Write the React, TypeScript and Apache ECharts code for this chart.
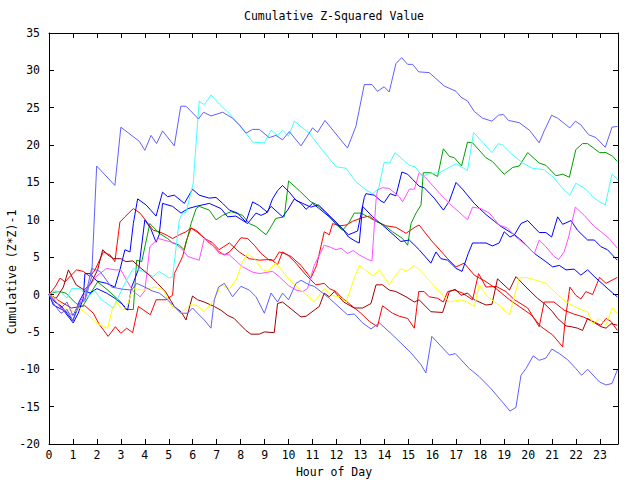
import React, { useEffect, useRef } from 'react';
import * as echarts from 'echarts';

type P = [number, number];

const TITLE = 'Cumulative Z-Squared Value';
const X_NAME = 'Hour of Day';
const Y_NAME = 'Cumulative (Z*Z)-1';
const X_MIN = 0;
const X_MAX = 23.75;
const Y_MIN = -20;
const Y_MAX = 35;

// [hour, value] vertices
const periwinkleUpper: P[] = [
  [0, 0], [0.25, -0.8], [0.5, -1.8], [0.75, -1.0], [1.0, -2.8], [1.25, -1.2], [1.5, -0.8], [1.78, 2.4],
  [1.99, 17.2], [2.75, 14.6], [3.0, 22.4], [3.77, 20.5], [4.0, 19.3], [4.26, 21.3], [4.49, 20.2], [4.74, 21.9],
  [5.23, 19.9], [5.5, 25.2], [5.72, 25.2], [6.24, 23.5], [6.45, 24.4], [6.76, 23.9], [7.25, 24.4], [7.66, 23.6],
  [7.94, 22.7], [8.22, 21.6], [8.5, 22.1], [8.78, 22.1], [9.19, 21.0], [9.47, 21.3], [9.75, 20.7], [10.03, 21.8],
  [10.52, 19.9], [11.0, 22.3], [11.21, 21.7], [11.52, 23.3], [12.46, 19.6], [12.81, 22.5], [13.16, 28.1],
  [13.48, 28.1], [13.71, 27.2], [13.99, 27.8], [14.2, 27.1], [14.48, 30.9], [14.72, 31.7], [14.97, 30.8],
  [15.18, 30.8], [15.43, 29.8], [15.87, 29.7], [16.5, 27.9], [16.99, 27.2], [17.2, 26.4], [17.47, 25.9],
  [17.75, 24.5], [18.1, 23.6], [18.49, 23.2], [18.76, 24.0], [18.96, 24.1], [19.18, 23.3], [19.63, 23.0],
  [20.05, 22.0], [20.46, 20.3], [20.67, 21.9], [20.98, 24.0], [21.23, 23.6], [21.74, 22.3], [21.97, 23.2],
  [22.2, 22.7], [22.52, 21.4], [22.83, 21.0], [23.22, 19.7], [23.5, 22.4], [23.72, 22.5],
];

const periwinkleLower: P[] = [
  [0, 0], [0.25, -1.5], [0.5, -2.5], [0.75, -2.0], [1.0, -3.5], [1.25, -1.5], [1.5, -0.5], [1.78, 3.5],
  [2.13, 3.1], [2.61, 1.0], [3.1, 0.7], [3.45, 0.6], [3.66, 1.5], [4.0, 1.0], [4.3, 0.5], [4.6, 0.2],
  [4.88, -0.5], [5.16, -1.4], [5.51, -2.5], [5.79, -2.5], [5.99, -1.8], [6.2, -2.5], [6.48, -3.4], [6.76, -4.5],
  [6.9, -0.7], [7.08, 1.0], [7.32, 1.5], [7.53, 0.4], [7.66, -0.3], [8.01, 1.1], [8.36, 0.6], [8.64, -0.3],
  [8.99, -2.5], [9.27, 0.2], [9.54, -1.0], [9.75, 0.2], [10.0, -0.7], [10.31, 1.5], [10.52, 1.9], [10.86, 1.3],
  [11.07, 1.1], [11.7, -0.5], [12.46, -2.7], [12.74, -2.6], [13.09, -3.8], [13.44, -4.6], [13.79, -3.8],
  [14.27, -5.2], [14.69, -6.5], [15.11, -7.8], [15.53, -9.4], [15.73, -10.5], [15.98, -5.6], [16.71, -8.1],
  [16.96, -7.9], [17.54, -9.9], [17.96, -11.0], [18.45, -12.6], [18.93, -14.4], [19.24, -15.6], [19.49, -15.1],
  [19.7, -10.8], [19.91, -9.9], [20.21, -8.2], [20.46, -8.8], [20.74, -8.5], [20.99, -7.3], [21.3, -7.9],
  [21.64, -8.7], [21.99, -9.9], [22.23, -10.8], [22.48, -10.0], [22.98, -11.7], [23.25, -12.1], [23.5, -11.9],
  [23.72, -10.1],
];

const cyanLine: P[] = [
  [0, 0], [0.25, 0.5], [0.5, 0.3], [0.75, -0.5], [0.94, 0.8], [1.29, 0.8], [1.64, -0.3], [1.9, 0.5],
  [2.2, -0.7], [2.68, -1.8], [3.03, 0.6], [3.25, 2.0], [3.52, 3.5], [3.94, 3.1], [4.35, 2.4], [4.6, 3.1],
  [5.02, 2.2], [5.16, 2.4], [5.44, 10.0], [5.58, 10.9], [5.72, 11.0], [6.02, 14.9], [6.2, 22.9], [6.27, 25.9],
  [6.48, 25.4], [6.76, 26.7], [7.11, 25.5], [7.53, 24.2], [8.01, 22.5], [8.5, 20.4], [8.99, 20.3], [9.27, 22.0],
  [9.54, 21.3], [9.75, 22.0], [10.0, 21.2], [10.24, 23.2], [10.86, 21.6], [11.42, 19.3], [11.98, 17.1],
  [12.4, 16.9], [12.81, 15.1], [13.23, 14.0], [13.51, 13.5], [13.76, 14.2], [13.99, 17.7], [14.23, 17.6],
  [14.44, 19.0], [15.04, 17.3], [15.28, 17.1], [15.59, 15.8], [15.87, 16.2], [16.29, 16.3], [16.99, 17.5],
  [17.47, 16.6], [17.72, 21.7], [18.49, 19.0], [18.75, 20.2], [18.93, 20.0], [19.28, 18.9], [19.77, 17.6],
  [20.18, 16.9], [20.67, 16.7], [21.08, 15.6], [21.5, 14.0], [21.74, 13.3], [21.99, 14.9], [22.41, 14.1],
  [22.69, 13.1], [22.98, 12.4], [23.22, 12.0], [23.5, 16.1], [23.72, 15.4],
];

const greenLine: P[] = [
  [0, 0], [0.2, 0.3], [0.43, 0.4], [0.7, 0.2], [1.13, -1.2], [1.4, -1.6], [1.7, 0.0], [2.03, 1.7],
  [2.45, 0.6], [3.0, -1.0], [3.21, -2.0], [3.52, -2.0], [3.66, 4.6], [3.87, 4.4], [4.21, 9.5], [4.6, 8.2],
  [4.95, 7.5], [5.16, 6.9], [5.44, 6.6], [5.65, 6.0], [5.93, 9.5], [6.14, 11.5], [6.27, 11.8], [6.69, 11.3],
  [6.97, 10.0], [7.25, 10.6], [7.6, 11.1], [8.08, 10.6], [8.36, 9.5], [8.64, 9.1], [9.06, 8.0], [9.27, 9.1],
  [9.47, 10.2], [9.82, 10.4], [10.0, 15.2], [10.45, 13.9], [10.93, 12.4], [11.14, 12.1], [11.56, 11.0],
  [11.98, 9.4], [12.25, 8.6], [12.5, 9.5], [12.74, 10.9], [13.02, 10.9], [13.37, 10.3], [13.71, 9.7],
  [13.99, 9.3], [14.34, 8.4], [14.76, 7.5], [14.97, 6.6], [15.11, 9.5], [15.32, 10.9], [15.53, 12.0],
  [15.62, 16.3], [15.94, 16.3], [16.22, 15.8], [16.46, 19.5], [16.71, 18.5], [16.92, 18.3], [17.22, 17.2],
  [17.47, 20.4], [17.68, 20.3], [18.24, 18.3], [18.51, 17.8], [19.0, 16.1], [19.35, 17.0], [19.63, 17.2],
  [19.98, 19.0], [20.46, 17.6], [20.74, 17.3], [21.16, 15.9], [21.44, 16.1], [21.72, 15.7], [21.99, 19.4],
  [22.27, 20.2], [22.48, 20.2], [22.98, 19.0], [23.25, 19.0], [23.53, 18.5], [23.72, 17.8],
];

const blueA: P[] = [
  [0, 0], [0.18, -1.4], [0.6, -2.1], [1.01, -3.8], [1.22, -2.5], [1.43, -0.5], [1.5, 2.8], [1.71, 2.8],
  [2.0, 1.8], [2.4, 1.5], [2.75, 1.0], [2.96, 3.3], [3.17, 6.0], [3.38, 5.7], [3.52, 9.5], [3.7, 12.8],
  [4.05, 12.0], [4.47, 10.5], [4.74, 13.7], [4.95, 13.1], [5.23, 13.3], [5.65, 12.2], [5.99, 14.1],
  [6.27, 13.3], [6.69, 12.9], [6.97, 13.0], [7.25, 12.2], [7.53, 11.3], [7.87, 10.9], [8.22, 9.7], [8.5, 12.4],
  [8.78, 11.9], [9.12, 11.0], [9.33, 12.8], [9.54, 13.9], [9.75, 14.6], [10.03, 13.7], [10.31, 12.6],
  [10.59, 12.2], [10.93, 11.7], [11.25, 12.0], [11.56, 11.0], [11.98, 9.7], [12.25, 8.8], [12.5, 7.7],
  [12.81, 7.1], [12.95, 6.9], [13.09, 11.8], [13.51, 10.4], [13.92, 9.3], [14.48, 7.7], [14.69, 7.1],
  [15.04, 7.3], [15.45, 6.0], [15.94, 4.2], [16.15, 5.7], [16.36, 4.8], [16.64, 4.6], [16.99, 3.5],
  [17.24, 3.1], [17.5, 5.5], [17.68, 6.9], [17.96, 6.9], [18.24, 6.9], [18.51, 6.5], [18.79, 6.9], [19.0, 8.4],
  [19.24, 7.7], [19.43, 8.0], [19.7, 9.5], [19.98, 9.9], [20.46, 8.3], [20.74, 8.3], [20.98, 7.7],
  [21.23, 10.4], [21.44, 9.4], [21.79, 9.9], [22.06, 8.6], [22.48, 7.3], [22.76, 7.3], [23.04, 6.4],
  [23.31, 6.0], [23.72, 4.6],
];

const blueB: P[] = [
  [0, 0], [0.25, -1.0], [0.5, -1.5], [0.75, -2.5], [1.0, -3.5], [1.25, -1.0], [1.5, 0.5], [1.71, 0.2],
  [2.0, 0.8], [2.4, 0.2], [2.75, -0.5], [3.1, -1.4], [3.28, -2.1], [3.45, 1.0], [3.75, 3.5], [4.0, 10.0],
  [4.25, 8.8], [4.47, 7.0], [4.6, 8.0], [4.74, 12.2], [5.16, 11.8], [5.51, 10.9], [5.8, 11.5], [6.14, 11.8],
  [6.69, 12.2], [7.18, 11.5], [7.46, 10.4], [7.8, 10.5], [8.29, 9.5], [8.64, 10.9], [8.85, 10.6], [9.06, 10.9],
  [9.27, 11.8], [9.75, 10.4], [9.96, 11.3], [10.24, 12.8], [10.52, 12.2], [10.73, 11.4], [11.0, 12.2],
  [11.28, 11.5], [11.7, 10.4], [11.98, 9.5], [12.25, 8.8], [12.5, 8.0], [12.88, 8.5], [13.16, 13.0],
  [13.23, 13.5], [13.58, 13.3], [13.86, 12.5], [13.99, 12.3], [14.24, 13.5], [14.48, 13.2], [14.73, 16.4],
  [14.97, 16.1], [15.18, 15.4], [15.45, 14.5], [15.66, 14.3], [16.08, 12.9], [16.46, 11.3], [16.71, 12.5],
  [16.99, 15.0], [17.26, 14.1], [17.75, 12.2], [18.24, 10.7], [18.59, 9.8], [18.87, 9.1], [19.43, 8.0],
  [19.77, 7.1], [20.26, 5.5], [20.74, 4.4], [21.02, 3.7], [21.3, 3.9], [21.58, 3.3], [21.92, 3.4],
  [22.2, 2.6], [22.48, 3.3], [22.83, 2.2], [23.25, 1.0], [23.53, 0.2], [23.72, -0.3],
];

const magentaLine: P[] = [
  [0, 0], [0.3, -1.0], [0.6, -2.0], [1.0, -2.8], [1.3, -1.0], [1.6, 0.8], [2.0, 2.5], [2.4, 3.5],
  [2.75, 3.3], [3.0, 3.3], [3.24, 1.9], [3.5, 0.5], [3.8, -0.3], [4.0, 0.5], [4.21, 6.4], [4.56, 7.5],
  [5.02, 7.1], [5.23, 6.9], [5.51, 6.2], [5.79, 5.1], [6.27, 4.6], [6.48, 7.5], [6.69, 7.1], [7.11, 5.5],
  [7.53, 5.3], [8.08, 3.7], [8.5, 3.0], [8.78, 2.8], [9.33, 3.1], [9.61, 2.4], [10.0, 1.2], [10.31, 0.6],
  [10.59, 0.4], [10.79, 0.8], [11.07, 3.9], [11.49, 6.6], [11.7, 6.4], [11.98, 6.0], [12.19, 6.2],
  [12.46, 5.5], [12.7, 5.9], [12.95, 5.3], [13.3, 4.7], [13.48, 4.5], [13.65, 12.6], [13.71, 14.0],
  [13.92, 14.3], [14.2, 14.2], [14.62, 13.1], [14.76, 12.4], [15.04, 14.1], [15.25, 14.1], [15.45, 16.3],
  [15.73, 15.6], [16.29, 13.6], [16.78, 12.0], [17.47, 10.0], [17.68, 11.7], [18.03, 11.5], [18.38, 10.9],
  [18.79, 9.3], [19.14, 8.9], [19.49, 7.7], [19.91, 6.6], [20.26, 5.5], [20.46, 7.3], [20.74, 6.4],
  [21.08, 5.1], [21.27, 4.7], [21.5, 5.7], [21.69, 7.7], [21.97, 11.7], [22.34, 10.6], [22.76, 9.1],
  [23.04, 8.4], [23.38, 7.5], [23.72, 6.2],
];

const yellowLine: P[] = [
  [0, 0], [0.25, -0.5], [0.5, -1.2], [0.75, -2.0], [1.08, -2.3], [1.26, -1.8], [1.54, -2.5], [2.03, -3.9],
  [2.45, -4.5], [2.63, -2.1], [2.82, -1.0], [3.07, -2.1], [3.28, -1.4], [3.49, 0.8], [3.94, 0.6], [4.42, 1.0],
  [4.77, 0.6], [5.09, -1.4], [5.51, -2.5], [5.86, -1.4], [6.14, -1.4], [6.48, -2.3], [6.9, -0.7], [7.18, 1.3],
  [7.53, 0.8], [7.8, 1.9], [8.08, 4.4], [8.29, 5.5], [8.57, 4.8], [8.92, 3.3], [9.12, 3.1], [9.47, 4.2],
  [9.82, 2.8], [10.24, 1.3], [10.66, 0.2], [11.07, -1.0], [11.49, 0.8], [11.77, -0.1], [12.12, -0.3],
  [12.4, -1.0], [12.74, 2.2], [12.95, 3.9], [13.51, 2.5], [13.79, 3.3], [14.2, 1.3], [14.48, 2.6],
  [14.69, 3.5], [14.9, 3.1], [15.25, 3.9], [15.53, 3.1], [15.87, 1.9], [16.29, 0.4], [16.71, -1.0],
  [17.2, -0.7], [17.47, -1.0], [17.75, -1.6], [17.96, 1.3], [18.31, -0.3], [18.8, -1.5], [19.22, -2.7],
  [19.63, 2.2], [19.91, 2.3], [20.33, 1.9], [20.74, 1.5], [21.16, 0.2], [21.58, -1.0], [21.92, -1.6],
  [22.27, -2.1], [22.48, -2.3], [22.69, -3.9], [22.98, -3.2], [23.25, -4.1], [23.5, -1.8], [23.72, -2.5],
];

const darkRedLine: P[] = [
  [0, 0], [0.3, -0.5], [0.6, 1.0], [0.81, 3.3], [1.13, 1.3], [1.47, 0.6], [1.75, 1.5], [2.03, 3.3],
  [2.24, 6.0], [2.45, 5.3], [2.7, 4.8], [3.0, 4.8], [3.21, 4.4], [3.5, 4.5], [3.77, 3.7], [4.19, 2.6],
  [4.53, 1.5], [4.88, 0.3], [5.23, -1.6], [5.51, -2.3], [5.72, -3.4], [5.99, -0.2], [6.2, -0.7], [6.48, -1.0],
  [6.9, -1.6], [7.18, -2.1], [7.46, -2.8], [7.73, -3.2], [7.94, -3.9], [8.22, -4.8], [8.43, -5.3],
  [8.78, -5.3], [8.99, -5.0], [9.4, -5.1], [9.54, -1.2], [9.75, -1.0], [10.52, -3.0], [10.73, -2.9],
  [11.28, -1.6], [11.49, 0.2], [11.7, -0.3], [11.91, 0.4], [12.3, -1.0], [12.74, -1.8], [13.09, -1.8],
  [13.44, -1.2], [13.65, 1.3], [13.92, 1.3], [14.2, 0.6], [14.48, 0.4], [14.9, -0.3], [15.25, -1.0],
  [15.45, -0.7], [15.94, -2.3], [16.43, -2.4], [16.71, 0.4], [16.96, 0.7], [17.2, -0.1], [17.47, 0.2],
  [17.75, -0.7], [18.24, -1.4], [18.49, -1.3], [18.72, 2.1], [19.22, 0.6], [19.49, 2.4], [19.91, 1.0],
  [20.39, -0.5], [20.67, -1.2], [21.02, -2.3], [21.23, -3.2], [21.58, -4.2], [21.79, -4.3], [22.06, -4.5],
  [22.27, -4.8], [22.48, -3.2], [23.04, -4.3], [23.25, -4.5], [23.46, -3.9], [23.72, -4.1],
];

const redA: P[] = [
  [0, 0], [0.5, -1.0], [0.94, -1.8], [1.5, -1.5], [1.85, -2.5], [2.1, -4.0], [2.47, -5.6], [2.77, -4.3],
  [3.0, -5.2], [3.24, -4.5], [3.49, -5.1], [3.73, -1.6], [4.23, -2.7], [4.47, -0.7], [4.88, -0.7],
  [5.16, -0.1], [5.23, 2.8], [5.37, 3.7], [5.58, 5.1], [5.72, 7.1], [5.93, 8.9], [6.2, 8.3], [6.5, 7.5],
  [6.8, 7.0], [7.1, 6.0], [7.53, 6.9], [7.94, 5.7], [8.36, 4.8], [8.78, 4.6], [9.27, 4.7], [9.54, 4.0],
  [9.75, 5.7], [9.96, 5.3], [10.31, 4.2], [10.73, 2.6], [11.14, 1.3], [11.49, 1.5], [11.7, 0.8],
  [11.98, 0.4], [12.25, -0.5], [12.6, -1.4], [13.02, -2.5], [13.37, -3.6], [13.71, -4.3], [13.92, -1.5],
  [14.34, -2.5], [14.62, -2.9], [14.97, -3.2], [15.25, -4.5], [15.43, 0.4], [15.66, 0.4], [15.87, -0.3],
  [16.22, -0.5], [16.46, -1.0], [16.64, 0.4], [16.92, 0.6], [17.26, 0.2], [17.68, -0.7], [17.93, 2.8],
  [18.24, 1.0], [18.66, 1.1], [19.07, 0.4], [19.43, -0.7], [19.98, -1.8], [20.46, -4.3], [20.67, -1.0],
  [21.08, -1.0], [21.5, -2.1], [21.9, -2.6], [22.3, -3.0], [22.7, -3.6], [23.04, -4.1], [23.25, -3.2],
  [23.46, -3.6], [23.72, -4.8],
];

const redB: P[] = [
  [0, 0], [0.25, 1.0], [0.46, 2.2], [0.67, 1.7], [0.9, 2.5], [1.15, 3.3], [1.43, 3.1], [1.71, 2.4],
  [1.92, 3.3], [2.27, 5.7], [2.55, 5.3], [2.75, 4.4], [2.96, 9.7], [3.17, 10.4], [3.52, 11.5], [3.8, 10.9],
  [4.35, 8.6], [4.6, 8.4], [4.88, 8.0], [5.16, 7.5], [5.44, 8.0], [5.72, 8.4], [5.93, 8.9], [6.14, 8.6],
  [6.35, 8.0], [6.69, 6.9], [6.9, 6.4], [7.11, 5.7], [7.32, 5.3], [7.53, 5.7], [7.73, 6.4], [8.01, 7.6],
  [8.29, 7.5], [8.57, 6.6], [8.85, 5.5], [9.19, 4.6], [9.4, 4.6], [9.61, 5.7], [9.82, 5.5], [10.1, 5.1],
  [10.52, 3.9], [10.93, 2.2], [11.17, 3.9], [11.49, 8.4], [11.7, 8.0], [11.84, 9.5], [12.12, 9.2],
  [12.4, 9.3], [12.67, 9.8], [13.09, 10.3], [13.37, 10.5], [13.65, 9.8], [14.06, 9.2], [14.48, 9.0],
  [14.9, 8.2], [15.32, 9.1], [15.45, 9.3], [15.94, 7.3], [16.64, 4.8], [16.99, 3.7], [17.33, 4.2],
  [17.75, 2.6], [18.2, 1.8], [18.66, 0.8], [19.22, -0.7], [19.63, -1.6], [20.12, -2.7], [20.54, -4.3],
  [21.02, -5.4], [21.44, -7.0], [21.54, -3.6], [21.74, 1.0], [21.99, -0.1], [22.2, -0.6], [22.41, 0.4],
  [22.69, 0.0], [22.98, 2.3], [23.25, 1.5], [23.72, 2.3],
];

const SERIES: { name: string; color: string; data: P[] }[] = [
  { name: 'redA', color: '#ff0000', data: redA },
  { name: 'redB', color: '#ff0000', data: redB },
  { name: 'green', color: '#00a000', data: greenLine },
  { name: 'blueA', color: '#0000ff', data: blueA },
  { name: 'blueB', color: '#0000ff', data: blueB },
  { name: 'magenta', color: '#ff50ff', data: magentaLine },
  { name: 'cyan', color: '#40ffff', data: cyanLine },
  { name: 'darkred', color: '#a00000', data: darkRedLine },
  { name: 'yellow', color: '#ffff00', data: yellowLine },
  { name: 'periwinkleUpper', color: '#6060ff', data: periwinkleUpper },
  { name: 'periwinkleLower', color: '#6060ff', data: periwinkleLower },
];

const FONT = 'DejaVu Sans Mono';
const FS = 11.5;

export default function App() {
  const ref = useRef<HTMLDivElement>(null);
  useEffect(() => {
    if (!ref.current) return;
    const chart = echarts.init(ref.current, undefined, { renderer: 'svg' });
    const G = { left: 49, right: 22, top: 33, bottom: 36 };
    const xBase = {
      type: 'value' as const,
      min: X_MIN,
      max: X_MAX,
      interval: 1,
      splitLine: { show: false },
      axisLine: { show: true, onZero: false, lineStyle: { color: '#000', width: 1 } },
      axisTick: { show: true, inside: true, length: 5, lineStyle: { color: '#000' } },
    };
    const yBase = {
      type: 'value' as const,
      min: Y_MIN,
      max: Y_MAX,
      interval: 5,
      splitLine: { show: false },
      axisLine: { show: true, onZero: false, lineStyle: { color: '#000', width: 1 } },
      axisTick: { show: true, inside: true, length: 5, lineStyle: { color: '#000' } },
    };
    chart.setOption({
      animation: false,
      backgroundColor: '#fff',
      grid: G,
      xAxis: [
        {
          ...xBase,
          position: 'bottom',
          axisLabel: {
            color: '#000', fontFamily: FONT, fontSize: FS, margin: 5,
            formatter: (v: number) => (Number.isInteger(v) ? String(v) : ''),
          },
        },
        { ...xBase, position: 'top', axisLabel: { show: false } },
      ],
      yAxis: [
        {
          ...yBase,
          position: 'left',
          axisLabel: { color: '#000', fontFamily: FONT, fontSize: FS, margin: 9 },
        },
        { ...yBase, position: 'right', axisLabel: { show: false } },
      ],
      graphic: [
        {
          type: 'text', x: 334, y: 16,
          style: { text: TITLE, fill: '#000', font: `${FS}px "${FONT}"`, textAlign: 'center', textVerticalAlign: 'middle' },
        },
        {
          type: 'text', x: 334, y: 472,
          style: { text: X_NAME, fill: '#000', font: `${FS}px "${FONT}"`, textAlign: 'center', textVerticalAlign: 'middle' },
        },
        {
          type: 'text', x: 12, y: 272, rotation: Math.PI / 2,
          style: { text: Y_NAME, fill: '#000', font: `${FS}px "${FONT}"`, textAlign: 'center', textVerticalAlign: 'middle' },
        },
      ],
      series: SERIES.map((s) => ({
        name: s.name,
        type: 'line',
        xAxisIndex: 0,
        yAxisIndex: 0,
        data: s.data,
        showSymbol: false,
        symbol: 'none',
        lineStyle: { color: s.color, width: 1 },
        itemStyle: { color: s.color },
        silent: true,
      })),
    });
    return () => chart.dispose();
  }, []);
  return <div ref={ref} style={{ position: 'fixed', left: 0, top: 0, width: 640, height: 480 }} />;
}
